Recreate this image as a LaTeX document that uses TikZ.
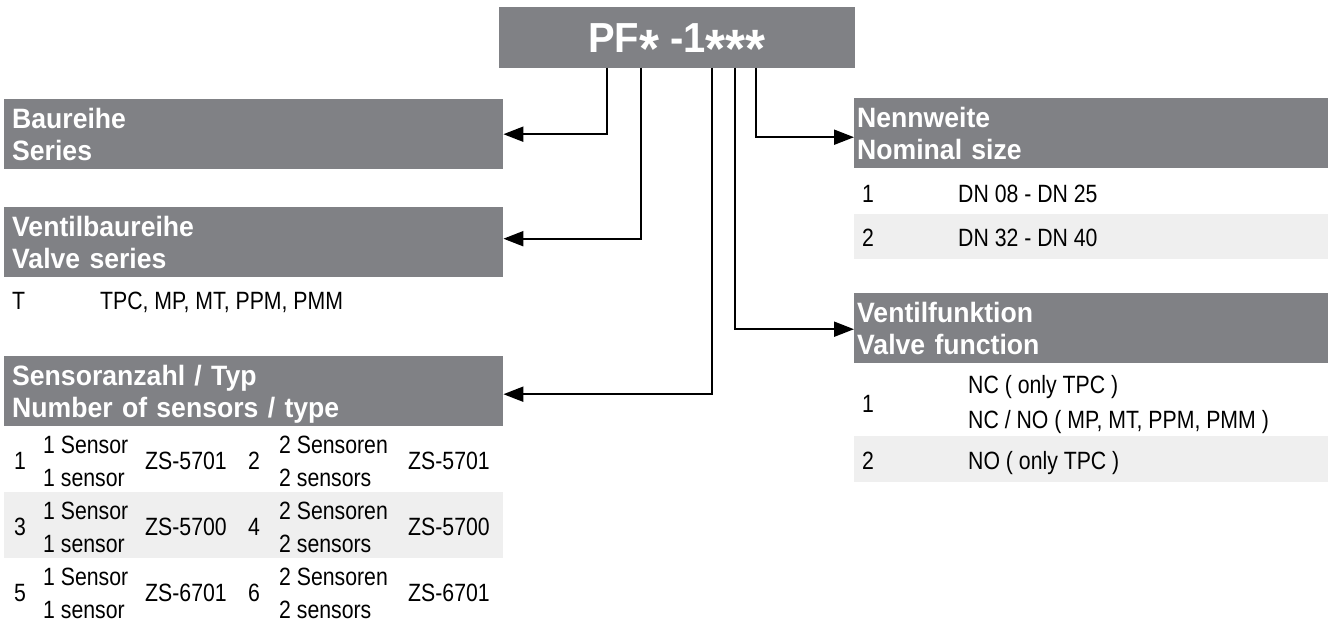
\documentclass[tikz,border=0pt]{standalone}
\usepackage{fontspec}
\usepackage{xcolor}
\usepackage{tikz}
\usetikzlibrary{
    arrows.meta,
    calc
}
\setmainfont{Liberation Sans}[FakeStretch=0.85]
\newfontfamily\headfont{Liberation Sans}[FakeStretch=0.95]
\definecolor{boxgray}{RGB}{128,129,133}
\definecolor{rowgray}{RGB}{239,239,239}
\newcommand{\lowstar}{\raisebox{-16pt}{\fontsize{54}{54}\selectfont *}}

\tikzset{
    codebox/.style={fill=boxgray, text=white, inner sep=0pt,
        minimum width=356pt, minimum height=61pt, text height=30pt, text depth=0pt,
        font={\headfont\bfseries\fontsize{42}{48}\selectfont}},
    headbox/.style={fill=boxgray, text=white, anchor=north west, align=left,
        inner ysep=0pt, minimum height=70pt, text height=20pt, text depth=32pt,
        font={\headfont\bfseries\fontsize{28}{32}\selectfont}},
    lefthead/.style={headbox, inner xsep=8pt, text width=483pt},
    righthead/.style={headbox, inner xsep=3pt, text width=468pt},
    body/.style={anchor=base west, inner sep=0pt, font={\fontsize{25}{30}\selectfont}},
    link/.style={line width=2pt, -{Triangle[length=20pt,width=15pt]}}
}

\begin{document}
\begin{tikzpicture}[x=1pt, y=-1pt]
    \useasboundingbox (0,0) rectangle (1328,621);

    % Type code
    \node[codebox] (code) at (677,37) {PF\lowstar\ -1\lowstar\lowstar\lowstar};

    % Stripes
    \fill[rowgray] (4,492) rectangle (503,558);
    \fill[rowgray] (854,214) rectangle (1328,259);
    \fill[rowgray] (854,436) rectangle (1328,482);

    % Headings
    \node[lefthead] (series) at (4,99) {Baureihe\\Series};
    \node[lefthead] (valveser) at (4,207) {Ventilbaureihe\\Valve series};
    \node[lefthead] (sensors) at (4,356) {Sensoranzahl / Typ\\Number of sensors / type};
    \node[righthead] (size) at (854,98) {Nennweite\\Nominal size};
    \node[righthead] (func) at (854,293) {Ventilfunktion\\Valve function};

    % Valve series
    \node[body] (t) at (12,309) {T};
    \node[body] (tt) at (100,309) {TPC, MP, MT, PPM, PMM};

    % Sensors
    \foreach \i/\a/\b/\z in {0/1/2/5701, 1/3/4/5700, 2/5/6/6701} {
        \node[body] (n\a) at (14,{469+66*\i}) {\a};
        \node[body] (sa\a) at (43,{453+66*\i}) {1 Sensor};
        \node[body] (sb\a) at (43,{486+66*\i}) {1 sensor};
        \node[body] (za\a) at (145,{469+66*\i}) {ZS-\z};
        \node[body] (n\b) at (248,{469+66*\i}) {\b};
        \node[body] (sa\b) at (279,{453+66*\i}) {2 Sensoren};
        \node[body] (sb\b) at (279,{486+66*\i}) {2 sensors};
        \node[body] (zb\b) at (408,{469+66*\i}) {ZS-\z};
    }

    % Nominal size
    \node[body] (s1) at (862,202) {1};
    \node[body] (s1t) at (958,202) {DN 08 - DN 25};
    \node[body] (s2) at (862,246) {2};
    \node[body] (s2t) at (958,246) {DN 32 - DN 40};

    % Valve function
    \node[body] (f1) at (862,412) {1};
    \node[body] (f1a) at (968,393) {NC ( only TPC )};
    \node[body] (f1b) at (968,428) {NC / NO ( MP, MT, PPM, PMM )};
    \node[body] (f2) at (862,469) {2};
    \node[body] (f2t) at (968,469) {NO ( only TPC )};

    % Connectors
    \draw[link] (607,0 |- code.south) |- (series.east);
    \draw[link] (641,0 |- code.south) |- ([yshift=3.5pt]valveser.east);
    \draw[link] (712,0 |- code.south) |- ([yshift=-3pt]sensors.east);
    \draw[link] (735,0 |- code.south) |- ([yshift=-1pt]func.west);
    \draw[link] (756,0 |- code.south) |- ([yshift=-4pt]size.west);
\end{tikzpicture}
\end{document}
